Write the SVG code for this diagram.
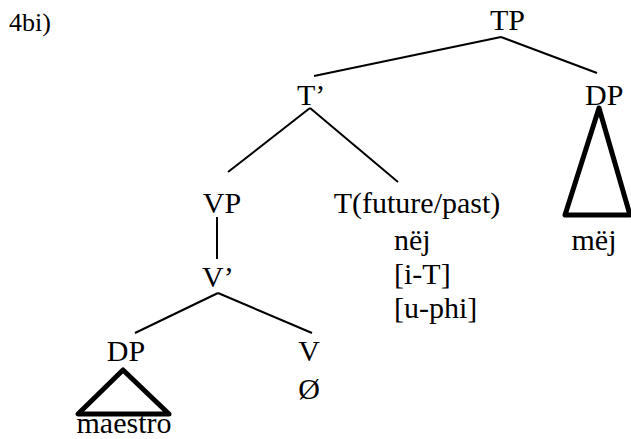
<svg xmlns="http://www.w3.org/2000/svg" width="631" height="439" viewBox="0 0 631 439" font-family="'Liberation Serif', 'DejaVu Serif', 'Times New Roman', serif">
<style>
text{font-family:'Liberation Serif','DejaVu Serif','Times New Roman',serif;font-size:30px;fill:#000}
.lbl{font-size:26px}
.edge{stroke:#000;stroke-width:2;fill:none;stroke-linecap:butt}
.tri{stroke:#000;stroke-width:5;fill:none;stroke-linejoin:round}
</style>
<rect width="631" height="439" fill="#fff"/>
<g id="label"><text class="lbl" x="9" y="31">4bi)</text></g>
<g id="connectors">
<line class="edge" x1="501" y1="37" x2="314" y2="76"/>
<line class="edge" x1="501" y1="37" x2="597" y2="73"/>
<line class="edge" x1="310" y1="108" x2="228" y2="172"/>
<line class="edge" x1="310" y1="108" x2="398" y2="182"/>
<line class="edge" x1="217" y1="217" x2="217" y2="259"/>
<line class="edge" x1="218" y1="293" x2="135" y2="333"/>
<line class="edge" x1="218" y1="293" x2="312" y2="333"/>
</g>
<g id="TP"><text x="490" y="30">TP</text></g>
<g id="Tbar"><text x="297" y="105">T’</text></g>
<g id="DP-subj"><text x="585" y="105">DP</text>
<polygon class="tri" points="599,108 565,215 630,215"/>
<text x="594" y="250" text-anchor="middle">mëj</text></g>
<g id="VP"><text x="222" y="213" text-anchor="middle">VP</text></g>
<g id="T"><text x="417" y="213" text-anchor="middle">T(future/past)</text>
<text x="394" y="250">nëj</text>
<text x="394" y="284">[i-T]</text>
<text x="394" y="318">[u-phi]</text></g>
<g id="Vbar"><text x="202" y="287">V’</text></g>
<g id="DP-obj"><text x="126" y="361" text-anchor="middle">DP</text>
<polygon class="tri" points="123,370 78,414 169,414"/>
<text x="124" y="433" text-anchor="middle">maestro</text></g>
<g id="V"><text x="309" y="361" text-anchor="middle">V</text>
<text x="309" y="399" text-anchor="middle">Ø</text></g>
</svg>
